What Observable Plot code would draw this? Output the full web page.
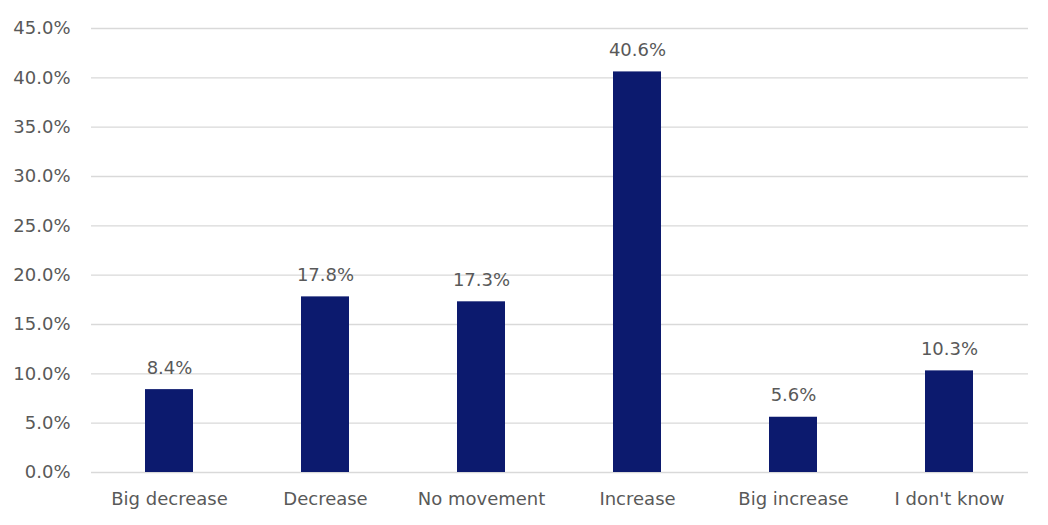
<!DOCTYPE html>
<html>
<head>
<meta charset="utf-8">
<script src="https://cdn.jsdelivr.net/npm/d3@7"></script>
<script src="https://cdn.jsdelivr.net/npm/@observablehq/plot@0.6"></script>
<style>
  html, body { margin: 0; padding: 0; background: #fff; }
  svg { display: block; }
</style>
</head>
<body>
<div id="chart"></div>
<script>
const categories = ["Big decrease", "Decrease", "No movement", "Increase", "Big increase", "I don't know"];
const values = [8.4, 17.8, 17.3, 40.6, 5.6, 10.3];
const yTicks = [0, 5, 10, 15, 20, 25, 30, 35, 40, 45];

const data = categories.map((c, i) => ({category: c, value: values[i]}));

const chart = Plot.plot({
  width: 1048,
  height: 525,
  marginLeft: 91,
  marginRight: 20,
  marginTop: 28,
  marginBottom: 53,
  style: {fontFamily: "'DejaVu Sans', sans-serif", fontSize: "18px", color: "#595959", background: "#fff"},
  x: {domain: categories, paddingInner: 0.69, paddingOuter: 0.345, label: null},
  y: {domain: [0, 45], label: null},
  marks: [
    Plot.gridY(yTicks, {stroke: "#d9d9d9", strokeOpacity: 1, strokeWidth: 1.3}),
    Plot.barY(data, {x: "category", y: "value", fill: "#0c1a6e"}),
    Plot.text(data, {x: "category", y: "value", text: d => d.value.toFixed(1) + "%", lineAnchor: "bottom", dy: -16, fill: "#595959", fontSize: 18}),
    Plot.axisY({ticks: yTicks, tickSize: 0, tickPadding: 21, tickFormat: d => d.toFixed(1) + "%", label: null, fontSize: 18}),
    Plot.axisX({tickSize: 0, tickPadding: 20, label: null, fontSize: 18})
  ]
});
document.getElementById("chart").appendChild(chart);
</script>
</body>
</html>
